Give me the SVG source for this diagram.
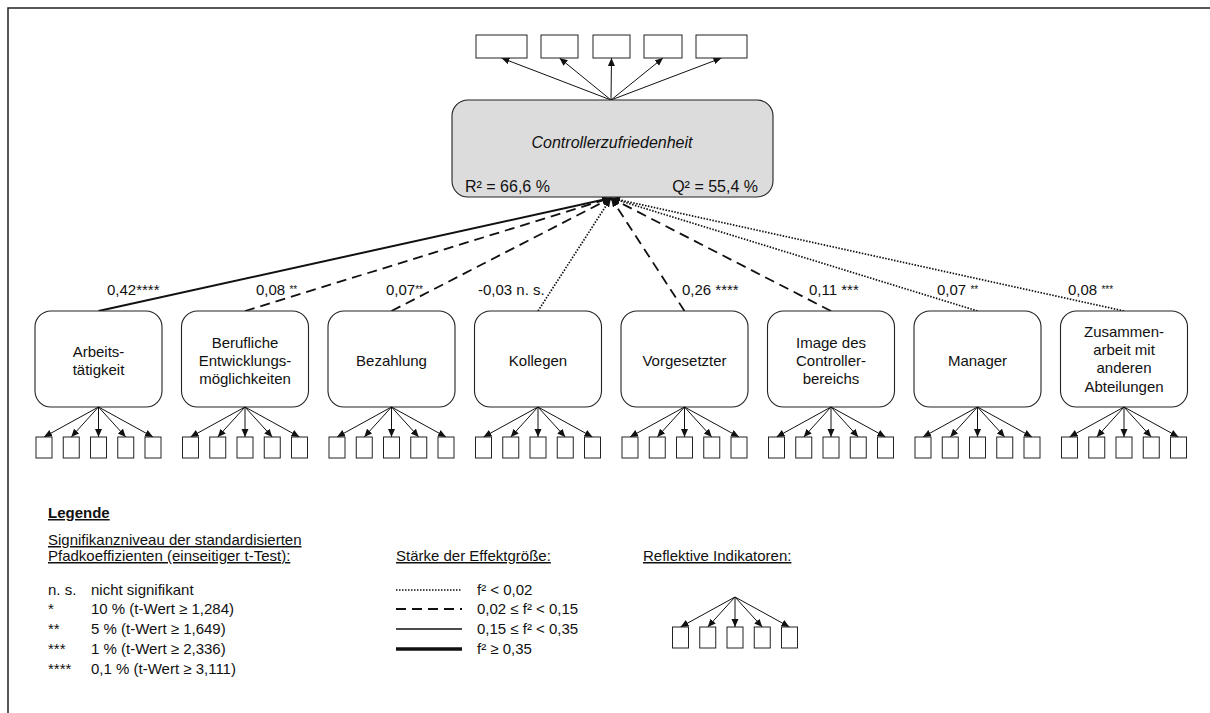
<svg xmlns="http://www.w3.org/2000/svg" xmlns:xlink="http://www.w3.org/1999/xlink" width="1210" height="713" viewBox="0 0 1210 713">
<style>
text{font-family:"Liberation Sans",Arial,sans-serif;fill:#111;}
.lbl{font-size:15px;text-anchor:middle;}
.pl{font-size:15px;}
.sm{font-size:10px;}
.lg{font-size:15px;}
.u{text-decoration:underline;}
.node{fill:#fff;stroke:#222;stroke-width:1.1;}
.ind{fill:#fff;stroke:#222;stroke-width:1;}
.ia{stroke:#111;stroke-width:1;fill:none;}
.p{fill:none;stroke:#111;}
.solid{stroke-width:2;}
.dash{stroke-width:1.8;stroke-dasharray:10 6;}
.dot{stroke-width:1.7;stroke-dasharray:1.5 1.5;}
</style>
<defs>
<marker id="sa" markerUnits="userSpaceOnUse" markerWidth="9" markerHeight="8" refX="8" refY="3.5" orient="auto"><path d="M0,0 L8,3.5 L0,7 z" fill="#111"/></marker>
<marker id="pa" markerUnits="userSpaceOnUse" markerWidth="10" markerHeight="8" refX="9" refY="3.5" orient="auto"><path d="M0,0 L9,3.5 L0,7 z" fill="#111"/></marker>
<g id="indset">
<line class="ia" x1="0" y1="0" x2="-54.5" y2="30" marker-end="url(#sa)"/>
<line class="ia" x1="0" y1="0" x2="-27.25" y2="30" marker-end="url(#sa)"/>
<line class="ia" x1="0" y1="0" x2="0" y2="30" marker-end="url(#sa)"/>
<line class="ia" x1="0" y1="0" x2="27.25" y2="30" marker-end="url(#sa)"/>
<line class="ia" x1="0" y1="0" x2="54.5" y2="30" marker-end="url(#sa)"/>
<rect class="ind" x="-62.5" y="30" width="16" height="21"/>
<rect class="ind" x="-35.25" y="30" width="16" height="21"/>
<rect class="ind" x="-8" y="30" width="16" height="21"/>
<rect class="ind" x="19.25" y="30" width="16" height="21"/>
<rect class="ind" x="46.5" y="30" width="16" height="21"/>
</g>
</defs>
<rect x="0" y="0" width="1210" height="713" fill="#fff"/>
<path d="M8,713 L8,8 L1210,8" fill="none" stroke="#222" stroke-width="1.5"/>

<g id="connectors">
<line class="p solid" x1="98.5" y1="311" x2="611" y2="198" marker-end="url(#pa)"/>
<line class="p dash" x1="245" y1="311" x2="611" y2="198" marker-end="url(#pa)"/>
<line class="p dash" x1="391.5" y1="311" x2="611" y2="198" marker-end="url(#pa)"/>
<line class="p dot" x1="538" y1="311" x2="611" y2="198" marker-end="url(#pa)"/>
<line class="p dash" x1="684.5" y1="311" x2="611" y2="198" marker-end="url(#pa)"/>
<line class="p dash" x1="831" y1="311" x2="611" y2="198" marker-end="url(#pa)"/>
<line class="p dot" x1="977.5" y1="311" x2="611" y2="198" marker-end="url(#pa)"/>
<line class="p dot" x1="1124" y1="311" x2="611" y2="198" marker-end="url(#pa)"/>
<line class="ia" x1="611" y1="100" x2="501.5" y2="58" marker-end="url(#sa)"/>
<line class="ia" x1="611" y1="100" x2="559.5" y2="58" marker-end="url(#sa)"/>
<line class="ia" x1="611" y1="100" x2="611.5" y2="58" marker-end="url(#sa)"/>
<line class="ia" x1="611" y1="100" x2="663" y2="58" marker-end="url(#sa)"/>
<line class="ia" x1="611" y1="100" x2="721.5" y2="58" marker-end="url(#sa)"/>
</g>

<g id="path-labels">
<text class="pl" x="107" y="295">0,42****</text>
<text class="pl" x="256" y="295">0,08 <tspan class="sm" dy="-2">**</tspan></text>
<text class="pl" x="386" y="295">0,07<tspan class="sm" dy="-2">**</tspan></text>
<text class="pl" x="478" y="295">-0,03 n. s.</text>
<text class="pl" x="682" y="295">0,26 ****</text>
<text class="pl" x="809" y="295">0,11 ***</text>
<text class="pl" x="937" y="295">0,07 <tspan class="sm" dy="-2">**</tspan></text>
<text class="pl" x="1068" y="295">0,08 <tspan class="sm" dy="-2">***</tspan></text>
</g>

<g id="top-indicators">
<rect class="ind" x="476" y="35" width="51" height="23"/>
<rect class="ind" x="541" y="35" width="37" height="23"/>
<rect class="ind" x="593" y="35" width="37" height="23"/>
<rect class="ind" x="644" y="35" width="38" height="23"/>
<rect class="ind" x="696" y="35" width="51" height="23"/>
</g>

<g id="controllerzufriedenheit">
<rect x="452" y="100" width="321" height="97" rx="16" fill="#dcdcdc" stroke="#222" stroke-width="1.1"/>
<text x="612" y="148" style="font-size:16px;font-style:italic;text-anchor:middle">Controllerzufriedenheit</text>
<text x="465" y="192" style="font-size:16px">R² = 66,6 %</text>
<text x="758" y="192" style="font-size:16px;text-anchor:end">Q² = 55,4 %</text>
</g>

<g id="arbeitstaetigkeit">
<rect class="node" x="35" y="311" width="127" height="96" rx="16"/>
<text class="lbl" x="98.5" y="357">Arbeits-</text>
<text class="lbl" x="98.5" y="375">tätigkeit</text>
<use xlink:href="#indset" href="#indset" transform="translate(98.5,407)"/>
</g>
<g id="berufliche">
<rect class="node" x="181.5" y="311" width="127" height="96" rx="16"/>
<text class="lbl" x="245" y="348">Berufliche</text>
<text class="lbl" x="245" y="366">Entwicklungs-</text>
<text class="lbl" x="245" y="384">möglichkeiten</text>
<use xlink:href="#indset" href="#indset" transform="translate(245,407)"/>
</g>
<g id="bezahlung">
<rect class="node" x="328" y="311" width="127" height="96" rx="16"/>
<text class="lbl" x="391.5" y="366">Bezahlung</text>
<use xlink:href="#indset" href="#indset" transform="translate(391.5,407)"/>
</g>
<g id="kollegen">
<rect class="node" x="474.5" y="311" width="127" height="96" rx="16"/>
<text class="lbl" x="538" y="366">Kollegen</text>
<use xlink:href="#indset" href="#indset" transform="translate(538,407)"/>
</g>
<g id="vorgesetzter">
<rect class="node" x="621" y="311" width="127" height="96" rx="16"/>
<text class="lbl" x="684.5" y="366">Vorgesetzter</text>
<use xlink:href="#indset" href="#indset" transform="translate(684.5,407)"/>
</g>
<g id="image">
<rect class="node" x="767.5" y="311" width="127" height="96" rx="16"/>
<text class="lbl" x="831" y="348">Image des</text>
<text class="lbl" x="831" y="366">Controller-</text>
<text class="lbl" x="831" y="384">bereichs</text>
<use xlink:href="#indset" href="#indset" transform="translate(831,407)"/>
</g>
<g id="manager">
<rect class="node" x="914" y="311" width="127" height="96" rx="16"/>
<text class="lbl" x="977.5" y="366">Manager</text>
<use xlink:href="#indset" href="#indset" transform="translate(977.5,407)"/>
</g>
<g id="zusammenarbeit">
<rect class="node" x="1060.5" y="311" width="127" height="96" rx="16"/>
<text class="lbl" x="1124" y="337">Zusammen-</text>
<text class="lbl" x="1124" y="355">arbeit mit</text>
<text class="lbl" x="1124" y="373">anderen</text>
<text class="lbl" x="1124" y="392">Abteilungen</text>
<use xlink:href="#indset" href="#indset" transform="translate(1124,407)"/>
</g>

<g id="legend">
<text class="lg u" x="48" y="518" style="font-weight:bold">Legende</text>
<text class="lg u" x="48" y="545">Signifikanzniveau der standardisierten</text>
<text class="lg u" x="48" y="561">Pfadkoeffizienten (einseitiger t-Test):</text>
<text class="lg" x="48" y="595">n. s.</text><text class="lg" x="91" y="595">nicht signifikant</text>
<text class="lg" x="48" y="614">*</text><text class="lg" x="91" y="614">10 % (t-Wert ≥ 1,284)</text>
<text class="lg" x="48" y="634">**</text><text class="lg" x="91" y="634">5 % (t-Wert ≥ 1,649)</text>
<text class="lg" x="48" y="654">***</text><text class="lg" x="91" y="654">1 % (t-Wert ≥ 2,336)</text>
<text class="lg" x="48" y="674">****</text><text class="lg" x="91" y="674">0,1 % (t-Wert ≥ 3,111)</text>

<text class="lg u" x="396" y="561">Stärke der Effektgröße:</text>
<line class="p dot" x1="396" y1="590" x2="462" y2="590"/>
<text class="lg" x="477" y="595">f² &lt; 0,02</text>
<line class="p dash" x1="396" y1="609" x2="462" y2="609"/>
<text class="lg" x="477" y="614">0,02 ≤ f² &lt; 0,15</text>
<line class="p" stroke-width="1.5" x1="396" y1="629" x2="462" y2="629"/>
<text class="lg" x="477" y="634">0,15 ≤ f² &lt; 0,35</text>
<line class="p" stroke-width="3.5" x1="396" y1="649" x2="462" y2="649"/>
<text class="lg" x="477" y="654">f² ≥ 0,35</text>

<text class="lg u" x="643" y="561">Reflektive Indikatoren:</text>
<use xlink:href="#indset" href="#indset" transform="translate(735,597)"/>
</g>
</svg>
